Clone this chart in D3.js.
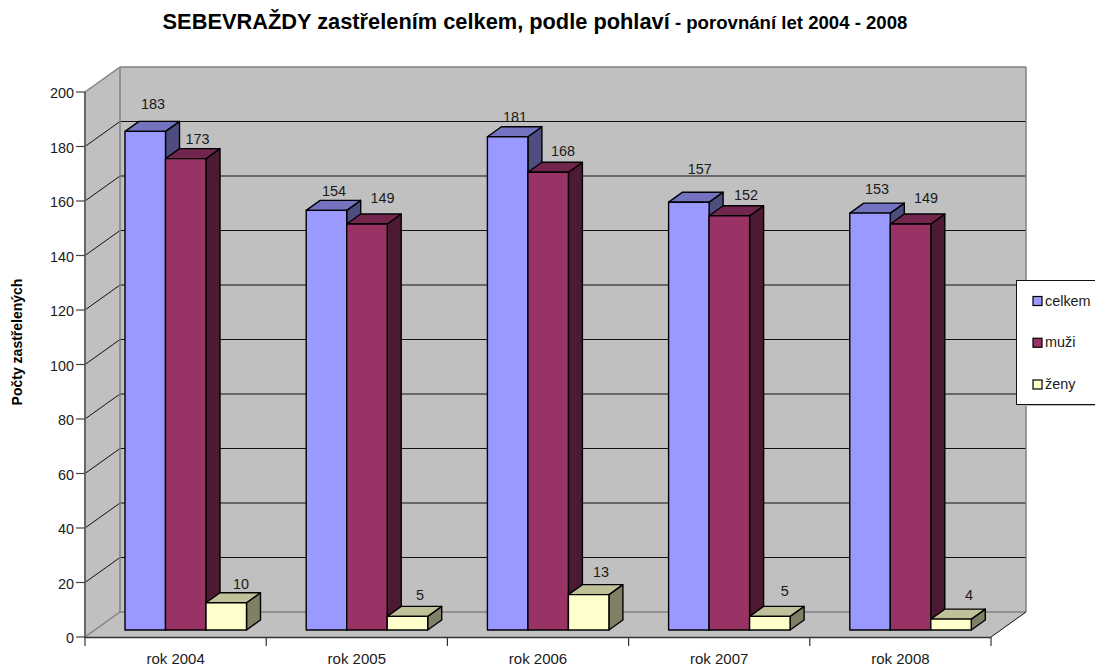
<!DOCTYPE html>
<html><head><meta charset="utf-8">
<script src="https://cdn.jsdelivr.net/npm/d3@7"></script>
<style>html,body{margin:0;padding:0;background:#fff}svg{display:block}text{font-family:"Liberation Sans",Arial,sans-serif;fill:#1a1a1a}</style>
</head><body><div id="c"></div>
<script>
const categories = ["rok 2004","rok 2005","rok 2006","rok 2007","rok 2008"];
const celkem = [183,154,181,157,153];
const muzi = [173,149,168,152,149];
const zeny = [10,5,13,5,4];
const yTicks = [0,20,40,60,80,100,120,140,160,180,200];
const seriesNames = ["celkem","muži","ženy"];
const seriesValues = [celkem,muzi,zeny];
const faceColors = [["#9999ff","#7373c0","#4d4d80"],["#993366","#73264d","#4d1a33"],["#ffffcc","#c0c099","#808066"]];
// hand placement of the value labels relative to the top of each bar
const labelDx = [[7.75,7.5,7.3,11,7],[11.75,15.5,14.85,16.6,15.5],[14.75,12.5,12.35,15,18]];
const labelDy = [[-22.3,-14.35,-15.1,-28.2,-19.1],[-14.6,-21,-16.2,-15.8,-21],[-13.75,-16.4,-17.6,-20.4,-19.1]];

const W=1095,H=667;
const svg=d3.select("#c").append("svg").attr("width",W).attr("height",H);
const x=d3.scaleBand().domain(categories).range([85,991]);
const y=d3.scaleLinear().domain([0,200]).range([637,92]);
const dx=35,dy=-25;
const barDx=14,barDy=-10,floorY=7;
const line=(a,b,c,d,col,w=1.2)=>svg.append("line").attr("x1",a).attr("y1",b).attr("x2",c).attr("y2",d).attr("stroke",col).attr("stroke-width",w);
const poly=(pts,fill,stroke,sw=1.4)=>svg.append("polygon").attr("points",pts.map(p=>p.join(",")).join(" ")).attr("fill",fill).attr("stroke",stroke||"none").attr("stroke-width",sw).attr("stroke-linejoin","round");

const xL=x.range()[0],xR=x.range()[1],y0=y(0),yT=y(200);
// walls
poly([[xL+dx,yT+dy],[xR+dx,yT+dy],[xR+dx,y0+dy],[xL+dx,y0+dy]],"#c0c0c0");
poly([[xL,yT],[xL+dx,yT+dy],[xL+dx,y0+dy],[xL,y0]],"#c0c0c0");
poly([[xL,y0],[xL+dx,y0+dy],[xR+dx,y0+dy],[xR,y0]],"#c0c0c0");
// gridlines
yTicks.forEach(t=>{
  const edge=t===0||t===200, c=edge?"#808080":"#111";
  line(xL,y(t),xL+dx,y(t)+dy,c, edge?1.5:1);
  line(xL+dx,y(t)+dy,xR+dx,y(t)+dy,c,edge?1.5:1);
});
line(xL+dx,yT+dy,xL+dx,y0+dy,"#808080",1.5);
line(xR+dx,yT+dy,xR+dx,y0+dy,"#808080",1.5);
// floor edges and axes
line(xL,y0+.5,xR,y0+.5,"#333",1.5);
line(xR,y0,xR+dx,y0+dy,"#111",1);
line(xL,yT,xL,y0+1,"#666",2);
yTicks.forEach(t=>{
  line(xL-9,y(t),xL,y(t),"#444",1.2);
  svg.append("text").attr("x",xL-11).attr("y",y(t)+6).attr("text-anchor","end").attr("font-size",14.4).text(t);
});
x.domain().forEach(c=>line(x(c),y0,x(c),y0+9,"#333",1.2));
line(xR,y0,xR,y0+9,"#333",1.2);
categories.forEach(c=>svg.append("text").attr("x",x(c)+x.bandwidth()/2).attr("y",664).attr("text-anchor","middle").attr("font-size",15).text(c));

// bars
const inner=d3.scaleBand().domain(d3.range(3)).range([40,161.5]);
categories.forEach((c,i)=>{
  seriesValues.forEach((vals,s)=>{
    const v=vals[i],bw=inner.bandwidth();
    const a=x(c)+inner(s),b=a+bw,base=y(0)-floorY,top=y(v)-floorY;
    const col=faceColors[s];
    poly([[b,top],[b+barDx,top+barDy],[b+barDx,base+barDy],[b,base]],col[2],"#000");
    poly([[a,top],[a+barDx,top+barDy],[b+barDx,top+barDy],[b,top]],col[1],"#000");
    poly([[a,top],[b,top],[b,base],[a,base]],col[0],"#000");
  });
});
// value labels on top of everything
categories.forEach((c,i)=>{
  seriesValues.forEach((vals,s)=>{
    const v=vals[i],a=x(c)+inner(s);
    svg.append("text").attr("x",a+inner.bandwidth()/2+labelDx[s][i]).attr("y",y(v)-floorY+labelDy[s][i])
      .attr("text-anchor","middle").attr("font-size",14.4).text(v);
  });
});

// legend
svg.append("rect").attr("x",1016.5).attr("y",280.5).attr("width",90).attr("height",124).attr("fill","#fff").attr("stroke","#111").attr("stroke-width",1);
line(1017,405.5,1095,405.5,"#bbb",1);
const legY=d3.scalePoint().domain(seriesNames).range([301,384.5]);
seriesNames.forEach((n,s)=>{
  svg.append("rect").attr("x",1033).attr("y",legY(n)-4.5).attr("width",9).attr("height",9).attr("fill",faceColors[s][0]).attr("stroke","#000").attr("stroke-width",1.2);
  svg.append("text").attr("x",1045).attr("y",legY(n)+4.7).attr("font-size",14.4).text(n);
});

// titles
const t=svg.append("text").attr("x",535).attr("y",29).attr("text-anchor","middle").attr("font-weight","bold").attr("font-size",21.8).style("fill","#000");
t.append("tspan").text("SEBEVRAŽDY zastřelením celkem, podle pohlaví");
t.append("tspan").attr("font-size",18.6).text(" - porovnání let 2004 - 2008");
svg.append("text").attr("transform","translate(22,342) rotate(-90)").attr("text-anchor","middle").attr("font-weight","bold").attr("font-size",14).style("fill","#000").text("Počty zastřelených");
</script></body></html>
